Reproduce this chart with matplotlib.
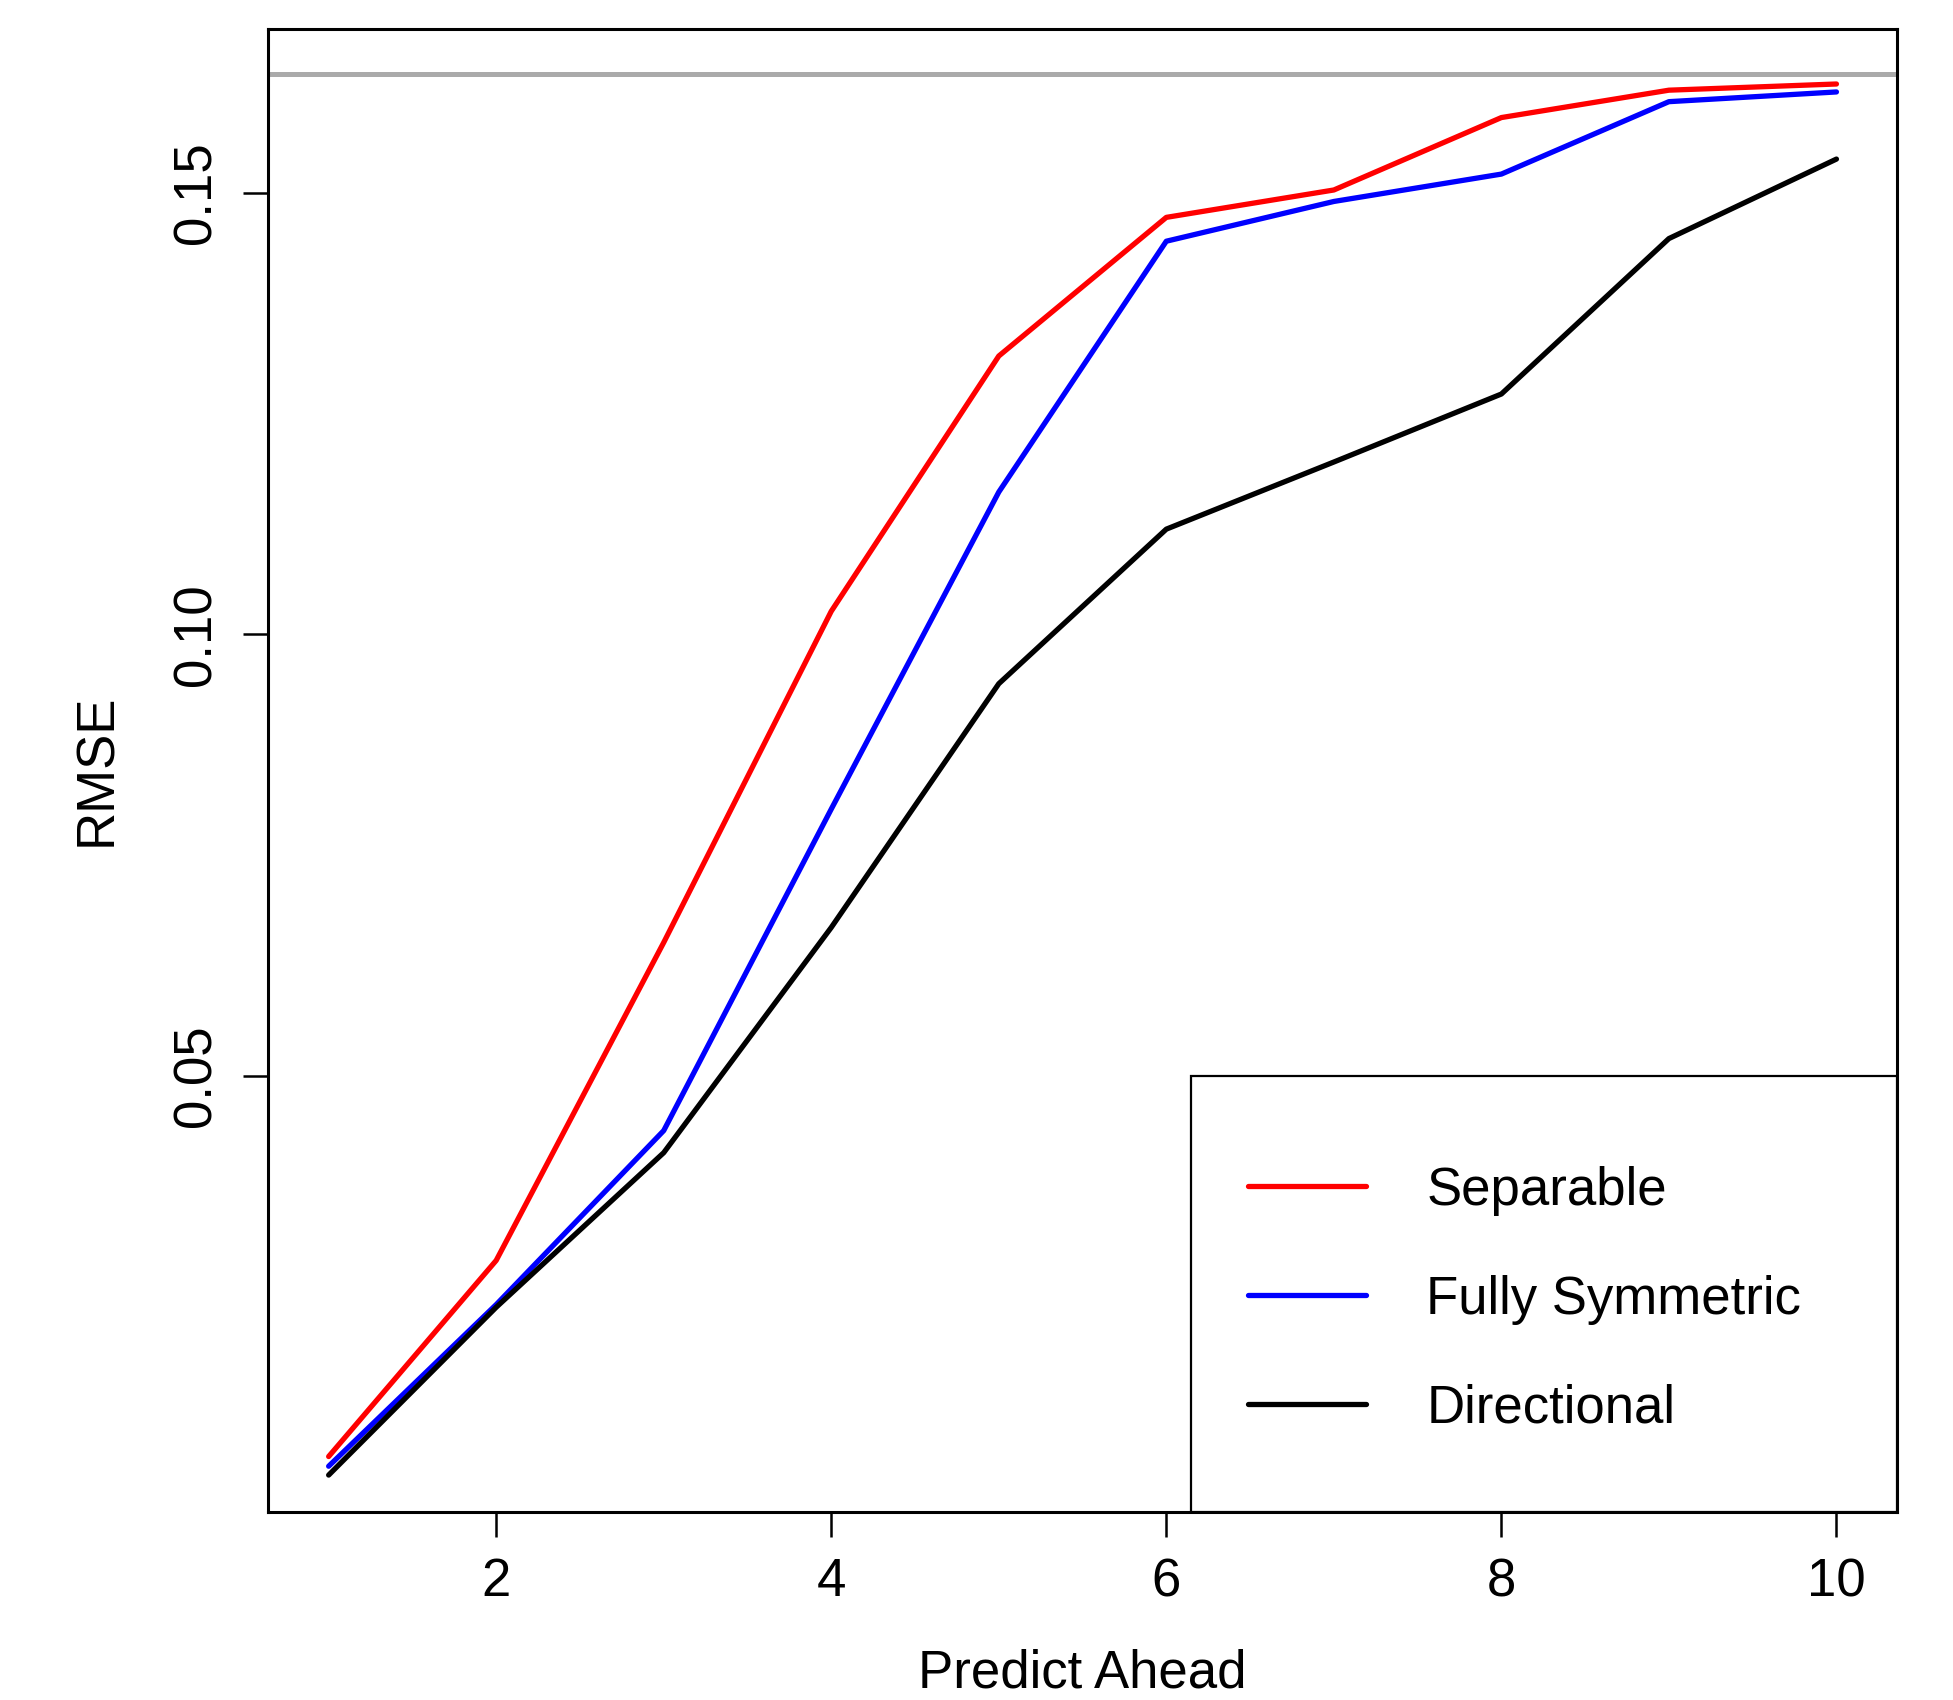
import matplotlib
matplotlib.use("Agg")
import matplotlib.pyplot as plt
from matplotlib.patches import Rectangle
from matplotlib.lines import Line2D

plt.rcParams['font.family'] = ['Liberation Sans', 'DejaVu Sans']

# data
steps = [1, 2, 3, 4, 5, 6, 7, 8, 9, 10]
separable = [0.0069, 0.0291, 0.0651, 0.1026, 0.1315, 0.1472, 0.1503, 0.1585, 0.1616, 0.1623]
fully_symmetric = [0.0058, 0.0241, 0.0438, 0.0802, 0.1161, 0.1445, 0.1490, 0.1521, 0.1603, 0.1614]
directional = [0.0048, 0.0238, 0.0413, 0.0668, 0.0944, 0.1119, 0.1195, 0.1272, 0.1448, 0.1538]
baseline = 0.1634

series_names = ['Separable', 'Fully Symmetric', 'Directional']
series_colors = ['#ff0000', '#0000ff', '#000000']
series_values = [separable, fully_symmetric, directional]

x_ticks = [2, 4, 6, 8, 10]
y_ticks = [0.05, 0.10, 0.15]
y_tick_labels = ['0.05', '0.10', '0.15']

FS = 38
LW = 3.8

fig = plt.figure(figsize=(19.53, 17.0), dpi=100)
ax = fig.add_axes([0.1374, 0.1108, 0.9712 - 0.1374, 0.9828 - 0.1108])

ax.axhline(baseline, color='#aaaaaa', lw=3.6, zorder=1)
for name, col, vals in zip(series_names, series_colors, series_values):
    ax.plot(steps, vals, color=col, lw=LW, solid_capstyle='round', label=name, zorder=2)

ax.set_xlim(0.64, 10.36)
ax.set_ylim(0.00066, 0.1685)

ax.set_xticks(x_ticks)
ax.set_xticklabels([str(t) for t in x_ticks])
ax.set_yticks(y_ticks)
ax.set_yticklabels(y_tick_labels, rotation=90, va='center')

ax.tick_params(axis='both', length=18, width=1.8, labelsize=FS, color='black')
ax.tick_params(axis='x', pad=15)
ax.tick_params(axis='y', pad=16)
for sp in ax.spines.values():
    sp.set_linewidth(2.2)

fig.text(0.5 * (0.1374 + 0.9712), 1 - 1688 / 1700, 'Predict Ahead', fontsize=FS,
         ha='center', va='baseline')
fig.text(122 / 1953, 1 - 770 / 1700, 'RMSE', fontsize=FS, rotation=90,
         ha='right', va='center')

# legend box in bottom-right corner, drawn by hand to match R's layout
ax.add_patch(Rectangle((0.5665, 0.0), 1 - 0.5665, 0.2941, transform=ax.transAxes,
                       facecolor='white', edgecolor='black', lw=1.6, zorder=5))
row_y = [0.2199, 0.1460, 0.0728]
for name, col, ry in zip(series_names, series_colors, row_y):
    ax.add_line(Line2D([0.6016, 0.6743], [ry, ry], transform=ax.transAxes,
                       color=col, lw=LW, solid_capstyle='round', zorder=6))
    ax.text(0.711, ry - 0.0128, name, transform=ax.transAxes, fontsize=FS,
            ha='left', va='baseline', zorder=6)

fig.savefig('out.png', dpi=100)
